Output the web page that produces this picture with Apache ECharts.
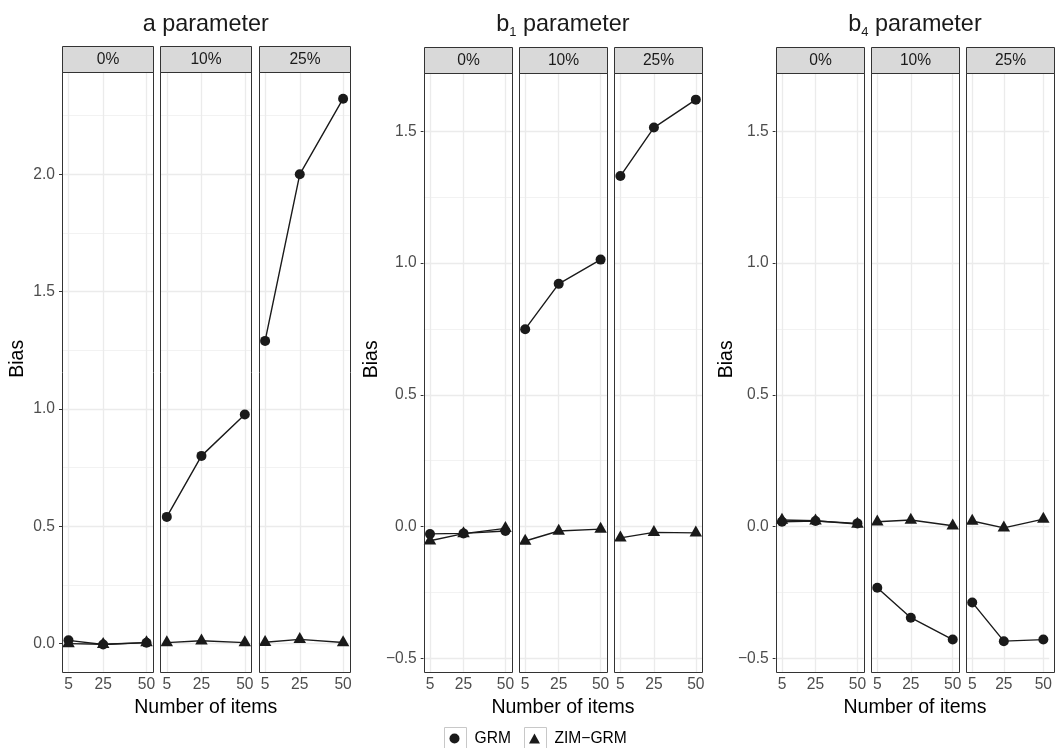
<!DOCTYPE html>
<html><head><meta charset="utf-8">
<script src="https://cdn.jsdelivr.net/npm/echarts@6/dist/echarts.min.js"></script>
<style>html,body{margin:0;padding:0;background:#fff}#c{width:1055px;height:748px}</style>
</head><body><div id="c"></div>
<script>
// ---------- data ----------
const items = [5, 25, 50];
const facetLabels = ['0%', '10%', '25%'];
const seriesNames = ['GRM', 'ZIM\u2212GRM'];

// a parameter: rows = facets (0%, 10%, 25%), cols = items (5, 25, 50)
const aGRM = [[0.014, -0.004, 0.004], [0.54, 0.80, 0.976], [1.29, 2.0, 2.322]];
const aZIM = [[0.0, -0.003, 0.004], [0.004, 0.012, 0.004], [0.006, 0.018, 0.005]];
// b1 parameter
const b1GRM = [[-0.028, -0.026, -0.017], [0.749, 0.921, 1.013], [1.330, 1.514, 1.620]];
const b1ZIM = [[-0.054, -0.027, -0.007], [-0.055, -0.017, -0.010], [-0.043, -0.022, -0.024]];
// b4 parameter
const b4GRM = [[0.018, 0.021, 0.012], [-0.232, -0.346, -0.429], [-0.288, -0.435, -0.429]];
const b4ZIM = [[0.025, 0.022, 0.009], [0.018, 0.025, 0.003], [0.021, -0.005, 0.028]];

// tick values
const xTicks = [5, 25, 50];
const aTicks = [0, 0.5, 1.0, 1.5, 2.0];
const aMinor = [0.25, 0.75, 1.25, 1.75, 2.25];
const bTicks = [-0.5, 0, 0.5, 1.0, 1.5];
const bMinor = [-0.25, 0.25, 0.75, 1.25];
const aRange = [-0.121, 2.438];
const bRange = [-0.552, 1.723];
const xRange = [1.25, 53.75];

// ---------- layout / style ----------
const FONT = '"Liberation Sans", Arial, Helvetica, sans-serif';
const BOTTOM = 672;
const panels = [
  {title: '{t|a parameter}', grm: aGRM, zim: aZIM, ticks: aTicks, minor: aMinor, range: aRange,
   left0: 62, step: 98.3, w: 91, top: 71.5, stripTop: 45.5, biasX: 18},
  {title: '{t|b}{s|1}{t| parameter}', grm: b1GRM, zim: b1ZIM, ticks: bTicks, minor: bMinor, range: bRange,
   left0: 423.7, step: 95.2, w: 88, top: 72.5, stripTop: 46.5, biasX: 372},
  {title: '{t|b}{s|4}{t| parameter}', grm: b4GRM, zim: b4ZIM, ticks: bTicks, minor: bMinor, range: bRange,
   left0: 775.7, step: 95.3, w: 88, top: 72.5, stripTop: 46.5, biasX: 727}
];
const INK = '#1a1a1a';
const fmt = v => (v < 0 ? '\u2212' : '') + Math.abs(v).toFixed(1);

const grids = [], xAxes = [], yAxes = [], series = [], graphics = [];

panels.forEach((p, pi) => {
  const fullLeft = p.left0, fullRight = p.left0 + 2 * p.step + p.w;
  // panel title
  graphics.push({type: 'text', x: (fullLeft + fullRight) / 2, y: 10.5, z: 50,
    style: {text: p.title, align: 'center', verticalAlign: 'top', fill: INK, font: '23.4px ' + FONT,
      rich: {t: {fontSize: 23.4, lineHeight: 28, fontFamily: FONT, fill: INK},
             s: {fontSize: 13, lineHeight: 15, verticalAlign: 'bottom', fontFamily: FONT, fill: INK}}}});
  // Bias title
  graphics.push({type: 'text', x: p.biasX, y: (p.stripTop + BOTTOM) / 2, rotation: Math.PI / 2, z: 50,
    style: {text: 'Bias', align: 'center', verticalAlign: 'middle', fill: '#000', font: '19.5px ' + FONT}});

  for (let f = 0; f < 3; f++) {
    const gi = grids.length;
    const left = p.left0 + f * p.step;
    grids.push({left: left, top: p.top, width: p.w, height: BOTTOM - p.top, show: true,
      backgroundColor: '#fff', borderWidth: 0});
    xAxes.push({gridIndex: gi, type: 'value', min: xRange[0], max: xRange[1],
      axisLine: {show: false}, splitLine: {show: false},
      axisTick: {show: true, customValues: xTicks, length: 3, lineStyle: {color: '#333', width: 1}},
      axisLabel: {customValues: xTicks, color: '#4D4D4D', fontSize: 15.6, fontFamily: FONT, margin: 5},
      name: f === 1 ? 'Number of items' : '', nameLocation: 'middle', nameGap: 28.5,
      nameTextStyle: {fontSize: 19.5, fontFamily: FONT, color: '#000', verticalAlign: 'middle'}});
    yAxes.push({gridIndex: gi, type: 'value', min: p.range[0], max: p.range[1],
      axisLine: {show: false}, splitLine: {show: false},
      axisTick: {show: f === 0, customValues: p.ticks, length: 3, lineStyle: {color: '#333', width: 1}},
      axisLabel: {show: f === 0, customValues: p.ticks, formatter: fmt, color: '#4D4D4D',
        fontSize: 15.6, fontFamily: FONT, margin: 7}});
    // grid lines
    const ml = [];
    p.minor.forEach(v => ml.push({yAxis: v, lineStyle: {color: '#EFEFEF', width: 0.8, type: 'solid'}}));
    p.ticks.forEach(v => ml.push({yAxis: v, lineStyle: {color: '#EBEBEB', width: 1.3, type: 'solid'}}));
    xTicks.forEach(v => ml.push({xAxis: v, lineStyle: {color: '#EBEBEB', width: 1.3, type: 'solid'}}));
    series.push({type: 'line', xAxisIndex: gi, yAxisIndex: gi, data: [], silent: true, z: 1,
      markLine: {silent: true, z: 1, symbol: ['none', 'none'], label: {show: false}, animation: false,
        lineStyle: {type: 'solid'}, data: ml}});
    // data series
    series.push({name: seriesNames[0], type: 'line', xAxisIndex: gi, yAxisIndex: gi, z: 6,
      data: items.map((x, k) => [x, p.grm[f][k]]),
      symbol: 'circle', symbolSize: 10, showSymbol: true,
      lineStyle: {color: INK, width: 1.4}, itemStyle: {color: INK}, silent: true});
    series.push({name: seriesNames[1], type: 'line', xAxisIndex: gi, yAxisIndex: gi, z: 7,
      data: items.map((x, k) => [x, p.zim[f][k]]),
      symbol: 'triangle', symbolSize: [12.5, 11], symbolOffset: [0, -1.8], showSymbol: true,
      lineStyle: {color: INK, width: 1.4}, itemStyle: {color: INK}, silent: true});
    // strip
    const sx = Math.round(left) + 0.5, sw = Math.round(p.w);
    const sy = Math.round(p.stripTop) + 0.5, st = Math.round(p.top) + 0.5;
    graphics.push({type: 'rect', z: 40, shape: {x: sx, y: sy, width: sw, height: st - sy},
      style: {fill: '#D9D9D9', stroke: '#333', lineWidth: 1}});
    graphics.push({type: 'text', z: 41, x: sx + sw / 2, y: (sy + st) / 2 + 0.5,
      style: {text: facetLabels[f], align: 'center', verticalAlign: 'middle', fill: INK, font: '15.6px ' + FONT}});
    // panel border
    graphics.push({type: 'rect', z: 40, shape: {x: sx, y: st, width: sw, height: Math.round(BOTTOM) + 0.5 - st},
      style: {fill: 'none', stroke: '#333', lineWidth: 1}});
  }
});

// legend key boxes
graphics.push({type: 'rect', z: 1, shape: {x: 444.5, y: 727.5, width: 22, height: 22}, style: {fill: '#fff', stroke: '#C8C8C8', lineWidth: 1}});
graphics.push({type: 'rect', z: 1, shape: {x: 524.5, y: 727.5, width: 22, height: 22}, style: {fill: '#fff', stroke: '#C8C8C8', lineWidth: 1}});

const chart = echarts.init(document.getElementById('c'));
chart.setOption({
  animation: false,
  backgroundColor: '#fff',
  textStyle: {fontFamily: FONT},
  grid: grids, xAxis: xAxes, yAxis: yAxes, series: series,
  legend: {data: [{name: seriesNames[0], icon: 'circle'}, {name: seriesNames[1], icon: 'triangle'}],
    left: 449.5, top: 730.5, padding: 0, itemWidth: 11, itemHeight: 10, itemGap: 18.1, selectedMode: false,
    textStyle: {fontSize: 15.6, color: '#000', fontFamily: FONT, lineHeight: 16, padding: [0, 0, 0, 9.5]}, z: 10},
  graphic: graphics
});
</script></body></html>
